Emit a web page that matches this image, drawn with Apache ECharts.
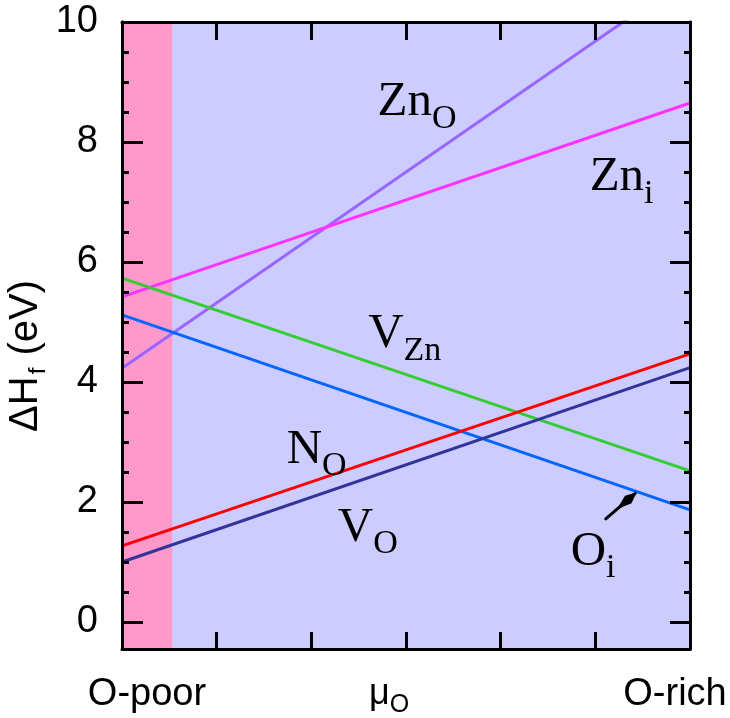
<!DOCTYPE html>
<html>
<head>
<meta charset="utf-8">
<script src="https://cdn.jsdelivr.net/npm/echarts@6/dist/echarts.min.js"></script>
<style>
  html, body { margin: 0; padding: 0; background: #fff; }
  #chart { width: 730px; height: 718px; }
</style>
</head>
<body>
<div id="chart"></div>
<script>
// chemical potential axis runs from O-poor (0) to O-rich (6), arbitrary units
const muEnds = [0, 6];
// formation energies (eV) at the two ends
const znO = [4.23, 10.77];
const znI = [5.42, 8.65];
const vZn = [5.73, 2.52];
const oI = [5.12, 1.87];
const nO = [1.27, 4.47];
const vO = [1.0, 4.24];
// end of the pink band
const poorEdge = 0.53;
// labels in data coords (top-left of the text block)
const defectNames = ["Zn", "Zn", "V", "N", "V", "O"];
const defectSubs = ["O", "i", "Zn", "O", "O", "i"];
const defectAt = [[2.70, 9.07], [4.94, 7.82], [2.60, 5.20], [1.74, 3.28], [2.28, 1.98], [4.74, 1.58]];
// arrow pointing at the O_i line
const arrowFrom = [5.11, 1.72];
const arrowTo = [5.42, 2.14];

const chart = echarts.init(document.getElementById("chart"));

const pts = (v) => [[muEnds[0], v[0]], [muEnds[1], v[1]]];

const mkLine = (name, v, color) => ({
  name,
  type: "line",
  data: pts(v),
  symbol: "none",
  z: 3,
  lineStyle: { color, width: 3 },
});

const black = "#000";
// y range runs a little below 0; ticks are forced to 2 (major) and 0.5 (minor)
const yAxisOf = (position, step, tickLen, labels) => ({
  type: "value",
  position,
  min: -0.45,
  max: 10,
  minInterval: step,
  maxInterval: step,
  z: 10,
  splitLine: { show: false },
  axisLine: { show: true, onZero: false, lineStyle: { color: black, width: 3 } },
  axisTick: { inside: true, length: tickLen, lineStyle: { color: black, width: 3 } },
  axisLabel: labels
    ? {
        showMinLabel: false, margin: 24, color: black,
        fontFamily: "Liberation Sans", fontSize: 38,
        formatter: (v) => (Number.isInteger(v) ? String(v) : ""),
      }
    : { show: false },
});

const xAxisOf = (position, tickLen) => ({
  type: "value", min: muEnds[0], max: muEnds[1], interval: 1, position, z: 10,
  splitLine: { show: false }, axisLabel: { show: false },
  axisLine: { onZero: false, lineStyle: { color: black, width: 3 } },
  axisTick: { inside: true, length: tickLen, lineStyle: { color: black, width: 3 } },
});

chart.setOption({
  animation: false,
  grid: { left: 122, right: 40, top: 22, bottom: 69, show: true, backgroundColor: "#ccccff", borderWidth: 0 },
  xAxis: [xAxisOf("bottom", 17), xAxisOf("top", 18)],
  yAxis: [
    yAxisOf("left", 2, 21, true),
    yAxisOf("left", 0.5, 7, false),
    yAxisOf("right", 2, 20, false),
    yAxisOf("right", 0.5, 6, false),
  ],
  series: [
    {
      name: "band",
      type: "line",
      data: [],
      z: 1,
      markArea: {
        silent: true,
        itemStyle: { color: "#ff99cc" },
        data: [[{ xAxis: muEnds[0] }, { xAxis: poorEdge }]],
      },
    },
    mkLine("Zn_O", znO, "#9966ff"),
    mkLine("Zn_i", znI, "#ff33ff"),
    mkLine("V_Zn", vZn, "#33cc33"),
    mkLine("O_i", oI, "#0066ff"),
    mkLine("V_O", vO, "#333399"),
    mkLine("N_O", nO, "#ff0000"),
  ],
});

const serif = "Liberation Serif";
const richLabel = {
  m: { fontFamily: serif, fontSize: 49, verticalAlign: "top", color: black },
  s: { fontFamily: serif, fontSize: 34, verticalAlign: "top", padding: [24, 0, 0, 0], color: black },
};

const toPx = (v) => chart.convertToPixel({ seriesIndex: 1 }, v);

const graphics = defectNames.map((name, i) => {
  const p = toPx(defectAt[i]);
  return {
    type: "text",
    x: p[0],
    y: p[1],
    z: 10,
    style: {
      text: "{m|" + name + "}{s|" + defectSubs[i] + "}",
      rich: richLabel,
      align: "left",
      verticalAlign: "top",
    },
  };
});

// arrow: thin shaft plus a slim diamond head near the tip
const a0 = toPx(arrowFrom);
const a1 = toPx(arrowTo);
const len = Math.hypot(a1[0] - a0[0], a1[1] - a0[1]);
const dx = (a1[0] - a0[0]) / len;
const dy = (a1[1] - a0[1]) / len;
const at = (t, w) => [a1[0] + dx * t - dy * w, a1[1] + dy * t + dx * w];
graphics.push(
  {
    type: "line", z: 10,
    shape: { x1: a0[0], y1: a0[1], x2: a1[0], y2: a1[1] },
    style: { stroke: black, lineWidth: 3, lineCap: "round" },
  },
  {
    type: "polygon", z: 10,
    shape: { points: [at(2, 0), at(-9, 5), at(-24, 0), at(-9, -5)] },
    style: { fill: black },
  }
);

const sans = "Liberation Sans";
graphics.push(
  {
    type: "text", x: 28, y: 356, rotation: Math.PI / 2, z: 10,
    style: {
      text: "{a|ΔH}{b|f}{a| (eV)}",
      align: "center", verticalAlign: "middle",
      rich: {
        a: { fontFamily: sans, fontSize: 40, verticalAlign: "top", color: black },
        b: { fontFamily: sans, fontSize: 24, verticalAlign: "top", padding: [20, 1, 0, 2], color: black },
      },
    },
  },
  {
    type: "text", x: 147, y: 695, z: 10,
    style: { text: "O-poor", fontFamily: sans, fontSize: 38, fill: black, align: "center", verticalAlign: "middle" },
  },
  {
    type: "text", x: 675, y: 695, z: 10,
    style: { text: "O-rich", fontFamily: sans, fontSize: 38, fill: black, align: "center", verticalAlign: "middle" },
  },
  {
    type: "text", x: 369, y: 676, z: 10,
    style: {
      text: "{a|μ}{b|O}",
      align: "left", verticalAlign: "top",
      rich: {
        a: { fontFamily: sans, fontSize: 36, verticalAlign: "top", color: black },
        b: { fontFamily: sans, fontSize: 25, verticalAlign: "top", padding: [17, 0, 0, 0], color: black },
      },
    },
  }
);

chart.setOption({ graphic: graphics });
</script>
</body>
</html>
